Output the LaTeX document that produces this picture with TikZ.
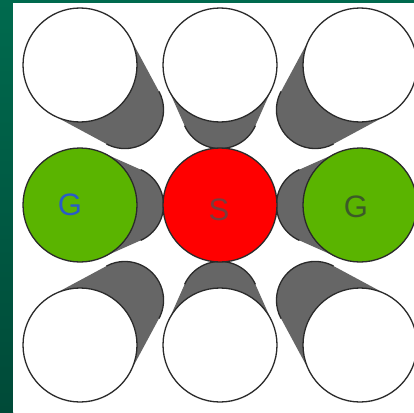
\documentclass[tikz,border=0pt]{standalone}
\usepackage{fontspec}
\setmainfont{Liberation Sans}
\definecolor{bgtop}{HTML}{006A4E}
\definecolor{bgbot}{HTML}{004A38}
\definecolor{shadowgrey}{HTML}{666666}
\definecolor{outline}{HTML}{2A2A2A}
\definecolor{ggreen}{HTML}{5AB400}
\definecolor{sred}{HTML}{FF0000}
\definecolor{gblue}{HTML}{2A5CC8}
\definecolor{sdark}{HTML}{7A3C3C}
\definecolor{gdark}{HTML}{3C5A28}
\tikzset{
  ball/.style={circle, draw=outline, line width=1.3pt, minimum size=114pt, inner sep=0pt},
  letter/.style={inner sep=0pt, font=\fontsize{31}{31}\selectfont}
}
\begin{document}
\begin{tikzpicture}[x=1pt,y=-1pt]
\useasboundingbox (0,0) rectangle (414,412);
% background
\fill[bgtop] (0,0) rectangle (414,412);
\shade[top color=bgtop, bottom color=bgbot] (0,0) rectangle (13,412);
\fill[white] (13,3) rectangle (414,412);
% cylinder shadows pointing to the centre
\foreach \fx/\fy in {80/65, 220/65, 360/65, 80/205, 360/205, 80/345, 220/345, 360/345} {
  \pgfmathsetmacro\ddx{220-\fx}
  \pgfmathsetmacro\ddy{205-\fy}
  \pgfmathsetmacro\dd{veclen(\ddx,\ddy)}
  \pgfmathsetmacro\ang{atan2(\ddy,\ddx)}
  \pgfmathsetmacro\tth{acos(57/\dd)}
  \pgfmathsetmacro\bx{\fx+0.32*\ddx}
  \pgfmathsetmacro\by{\fy+0.32*\ddy}
  \pgfmathsetmacro\rb{57*0.68}
  \pgfmathsetmacro\aA{\ang+\tth}
  \pgfmathsetmacro\aB{\ang-\tth}
  \fill[shadowgrey] ({\fx+57*cos(\aA)},{\fy+57*sin(\aA)})
     -- ({\bx+\rb*cos(\aA)},{\by+\rb*sin(\aA)})
     arc[start angle=\aA, end angle=\aB, radius=\rb]
     -- ({\fx+57*cos(\aB)},{\fy+57*sin(\aB)}) -- cycle;
  \draw[outline, line width=1.3pt] ({\bx+\rb*cos(\aA)},{\by+\rb*sin(\aA)})
     arc[start angle=\aA, end angle=\aB, radius=\rb];
}
% front circles
\node[ball, fill=white] (tl) at (80,65) {};
\node[ball, fill=white] (tm) at (220,65) {};
\node[ball, fill=white] (tr) at (360,65) {};
\node[ball, fill=ggreen] (gl) at (80,205) {};
\node[ball, fill=sred] (s) at (220,205) {};
\node[ball, fill=ggreen] (gr) at (360,205) {};
\node[ball, fill=white] (bl) at (80,345) {};
\node[ball, fill=white] (bm) at (220,345) {};
\node[ball, fill=white] (br) at (360,345) {};
% labels
\node[letter, text=gblue] (gltext) at (70,205) {G};
\node[letter, text=sdark] (stext) at (219,210) {S};
\node[letter, text=gdark] (grtext) at (356,207) {G};
\end{tikzpicture}
\end{document}
